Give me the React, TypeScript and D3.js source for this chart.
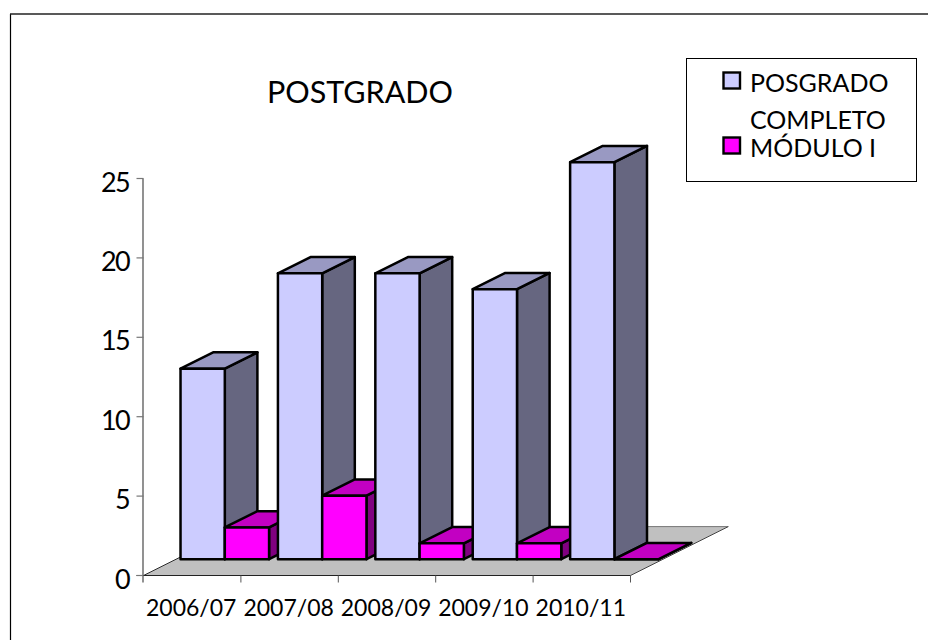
import React from "react";
import * as d3 from "d3";

const categories = ["2006/07", "2007/08", "2008/09", "2009/10", "2010/11"];
const seriesNames = ["POSGRADO COMPLETO", "MÓDULO I"];
const posgrado = [12, 18, 18, 17, 25];
const modulo = [2, 4, 1, 1, 0];
const yTicks = [0, 5, 10, 15, 20, 25];
const FONT = "Lato, 'Open Sans', sans-serif";

const x = d3.scaleBand<string>().domain(categories).range([143.5, 630.5]);
const y = d3.scaleLinear().domain([0, 25]).range([575.5, 178.5]);
const inner = d3.scaleBand<string>().domain(seriesNames).range([0, x.bandwidth()]).paddingOuter(0.1);
const dx = 32.6, dy = -16.3;

function Bar({ cat, series, value, c }: { cat: string; series: string; value: number; c: string[] }) {
  const x0 = (x(cat) as number) + (inner(series) as number) + dx;
  const x1 = x0 + inner.bandwidth();
  const y0 = y(0) + dy;
  const yt = y(value) + dy;
  const pts = (a: number[][]) => a.map((p) => p.join(",")).join(" ");
  const st = { stroke: "#000", strokeWidth: 2.5, strokeLinejoin: "round" as const };
  return (
    <g>
      <polygon points={pts([[x1, yt], [x1 + dx, yt + dy], [x1 + dx, y0 + dy], [x1, y0]])} fill={c[2]} {...st} />
      <polygon points={pts([[x0, yt], [x1, yt], [x1 + dx, yt + dy], [x0 + dx, yt + dy]])} fill={c[1]} {...st} />
      <polygon points={pts([[x0, yt], [x1, yt], [x1, y0], [x0, y0]])} fill={c[0]} {...st} />
    </g>
  );
}

const colA = ["#ccccff", "#9999c2", "#666680"];
const colB = ["#ff00ff", "#c200c2", "#800080"];

export default function App() {
  const left = x.range()[0], right = x.range()[1];
  const base = y(0);
  return (
    <svg width={928} height={640} style={{ position: "absolute", left: 0, top: 0 }}>
      <rect x={0} y={0} width={928} height={640} fill="#fff" />
      <line x1={10.5} y1={14} x2={10.5} y2={640} stroke="#000" strokeWidth={1.2} />
      <line x1={10} y1={14} x2={928} y2={14} stroke="#222" strokeWidth={1.4} />
      <polygon
        points={`${left},${base} ${right},${base} ${right + 3 * dx},${base + 3 * dy} ${left + 3 * dx},${base + 3 * dy}`}
        fill="#c0c0c0"
      />
      <line x1={left} y1={base} x2={left + 3 * dx} y2={base + 3 * dy} stroke="#000" strokeWidth={0.8} />
      <line x1={left + 3 * dx} y1={base + 3 * dy} x2={right + 3 * dx} y2={base + 3 * dy} stroke="#777" strokeWidth={1} />
      <line x1={right} y1={base} x2={right + 3 * dx} y2={base + 3 * dy} stroke="#444" strokeWidth={1} />
      <line x1={left - 0.5} y1={y(25)} x2={left - 0.5} y2={base + 7} stroke="#868686" strokeWidth={1.8} />
      <line x1={left - 7} y1={base} x2={right} y2={base} stroke="#222" strokeWidth={1} />
      {yTicks.map((t) => (
        <g key={t}>
          <line x1={left - 7} x2={left} y1={y(t)} y2={y(t)} stroke="#777" strokeWidth={1.2} />
          <text x={129} y={y(t) + 13} textAnchor="end" fontFamily={FONT} fontSize={27} letterSpacing={-1.6} fill="#000">{t}</text>
        </g>
      ))}
      {categories.map((c) => (
        <text key={c} x={(x(c) as number) + x.bandwidth() / 2 - 1} y={616} textAnchor="middle" fontFamily={FONT} fontSize={23} fill="#000">{c}</text>
      ))}
      {x.domain().concat("end").map((c, i) => {
        const px = left + i * x.step();
        return i === 0 ? null : <line key={c} x1={px} x2={px} y1={base} y2={base + 7} stroke="#555" />;
      })}
      {categories.map((c, i) => (
        <g key={c}>
          <Bar cat={c} series={seriesNames[0]} value={posgrado[i]} c={colA} />
          <Bar cat={c} series={seriesNames[1]} value={modulo[i]} c={colB} />
        </g>
      ))}
      <text x={360} y={102.5} textAnchor="middle" fontFamily={FONT} fontSize={30.5} fill="#000">POSTGRADO</text>
      <rect x={686.5} y={58.5} width={230} height={123} fill="#fff" stroke="#000" />
      <rect x={723.5} y={72.5} width={16.5} height={16} fill={colA[0]} stroke="#000" strokeWidth={2.4} />
      <rect x={723.5} y={137.5} width={16.5} height={16} fill={colB[0]} stroke="#000" strokeWidth={2.4} />
      <text x={750} y={92} fontFamily={FONT} fontSize={25} fill="#000">POSGRADO</text>
      <text x={750} y={129} fontFamily={FONT} fontSize={25} fill="#000">COMPLETO</text>
      <text x={750} y={157} fontFamily={FONT} fontSize={25} fill="#000">MÓDULO I</text>
    </svg>
  );
}
